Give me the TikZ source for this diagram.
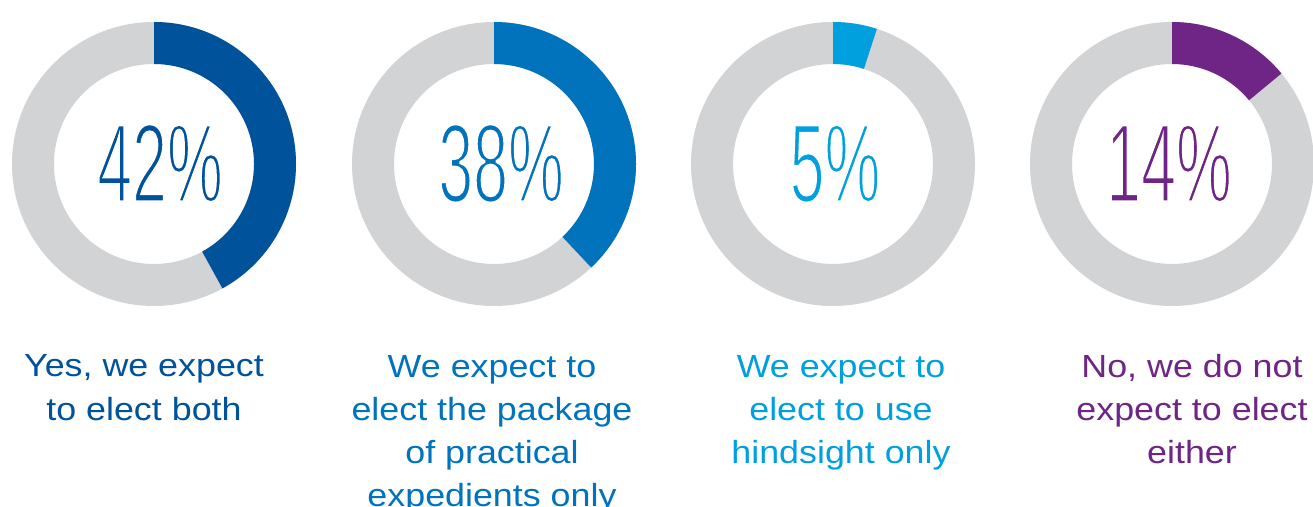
\documentclass[tikz,border=0pt]{standalone}
\usepackage{fontspec}
\setmainfont{Liberation Sans}
\definecolor{ringgray}{HTML}{D2D3D5}
\definecolor{cA}{HTML}{00529B}
\definecolor{cB}{HTML}{0073BC}
\definecolor{cC}{HTML}{00A0DF}
\definecolor{cD}{HTML}{6E2585}
\newcommand{\thinit}{\special{pdf:literal direct 2 Tr 1 1 1 RG 3 w}}
\newcommand{\thinoff}{\special{pdf:literal direct 0 Tr}}
\begin{document}
\begin{tikzpicture}[x=1pt,y=1pt,
  ring/.style={fill=ringgray, even odd rule},
  pct/.style={font=\fontsize{112}{112}\selectfont, xscale=0.56, anchor=base, inner sep=0pt},
  lab/.style={font=\fontsize{32}{43}\selectfont, align=center, xscale=1.12, anchor=base, inner sep=0pt}]
\useasboundingbox (0,0) rectangle (1313,506);
\foreach \n/\cx/\p/\col/\txt/\tx/\lx/\ly/\lab in {
  a/154/42/cA/42\%/160/144/86/{Yes, we expect\\to elect both},
  b/494/38/cB/38\%/501/492/0/{We expect to\\elect the package\\of practical\\expedients only},
  c/833/5/cC/5\%/835/841/43/{We expect to\\elect to use\\hindsight only},
  d/1172/14/cD/14\%/1169/1192/43/{No, we do not\\expect to elect\\either}}{
  \coordinate (ctr\n) at (\cx,342);
  \fill[ring] (ctr\n) circle[radius=142] (ctr\n) circle[radius=100];
  \pgfmathsetmacro{\ea}{90-3.6*\p}
  \fill[\col] (ctr\n) ++(90:142) arc[start angle=90, end angle=\ea, radius=142]
     -- ++(\ea:-42) arc[start angle=\ea, end angle=90, radius=100] -- cycle;
  \node[pct, text=\col] (pct\n) at (\tx,304) {\thinit\txt\thinoff};
  \node[lab, text=\col] (lab\n) at (\lx,\ly) {\lab};
}
\end{tikzpicture}
\end{document}
